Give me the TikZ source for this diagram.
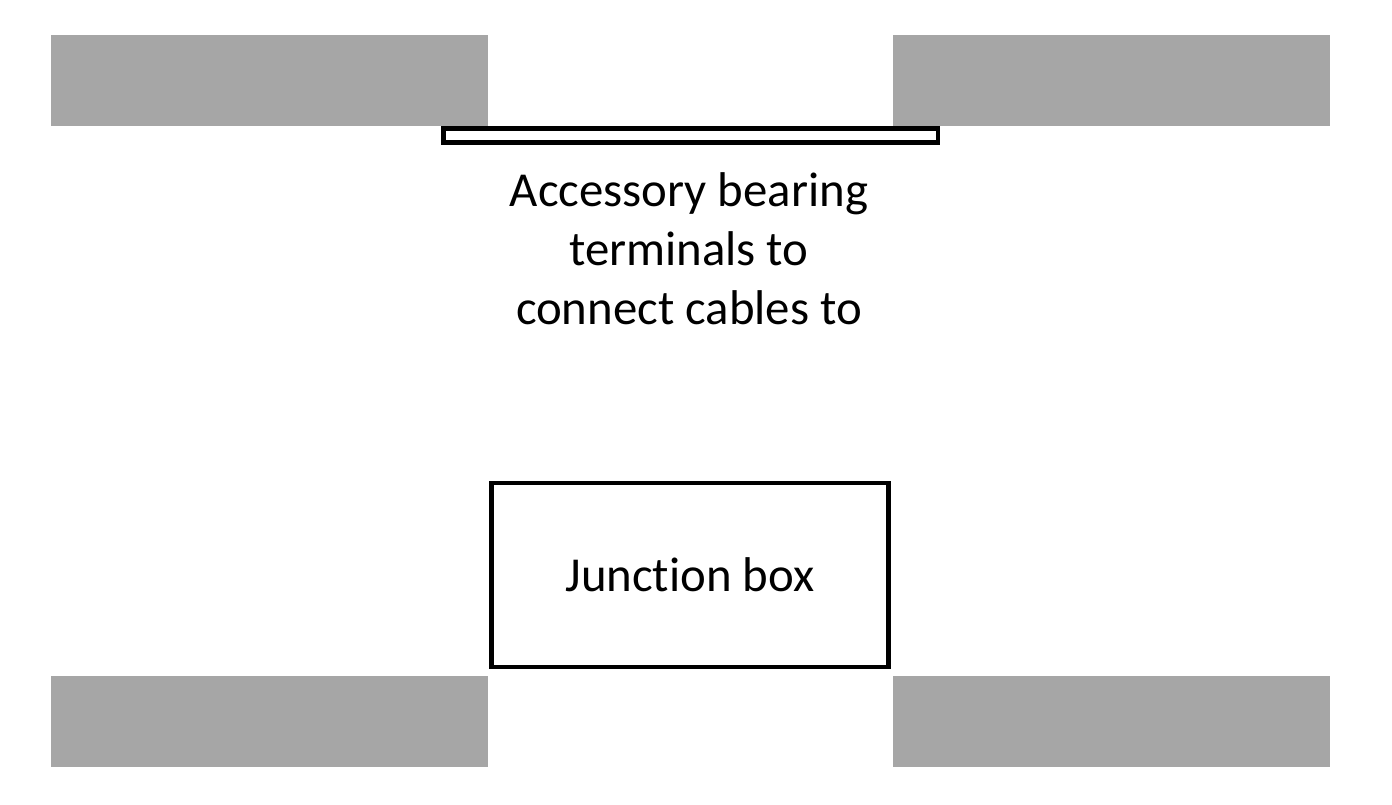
\documentclass[tikz,border=0pt]{standalone}
\usepackage{fontspec}
\setmainfont[Ligatures=CommonOff]{Carlito}
\definecolor{wallgray}{HTML}{A6A6A6}
\begin{document}
\begin{tikzpicture}[x=1pt,y=-1pt,
  wall/.style={fill=wallgray,draw=none},
  outline/.style={draw=black,line width=4.5pt,fill=white},
  label/.style={font=\fontsize{48.8}{59}\selectfont,align=center,inner sep=0pt}]
\useasboundingbox (0,0) rectangle (1392,805);
\fill[wallgray] (51,35) rectangle (488,126);
\fill[wallgray] (893,35) rectangle (1330,126);
\fill[wallgray] (51,676) rectangle (488,767);
\fill[wallgray] (893,676) rectangle (1330,767);
\draw[outline] (443.5,128.5) rectangle (938,142.5);
\node[outline,minimum width=397pt,minimum height=184pt,inner sep=0pt] (jb) at (690,575) {};
\node[label] (jbt) at (jb.center) {Junction box};
\node[label] (acc) at (689,249) {Accessory bearing\\terminals to\\connect cables to};
\end{tikzpicture}
\end{document}
